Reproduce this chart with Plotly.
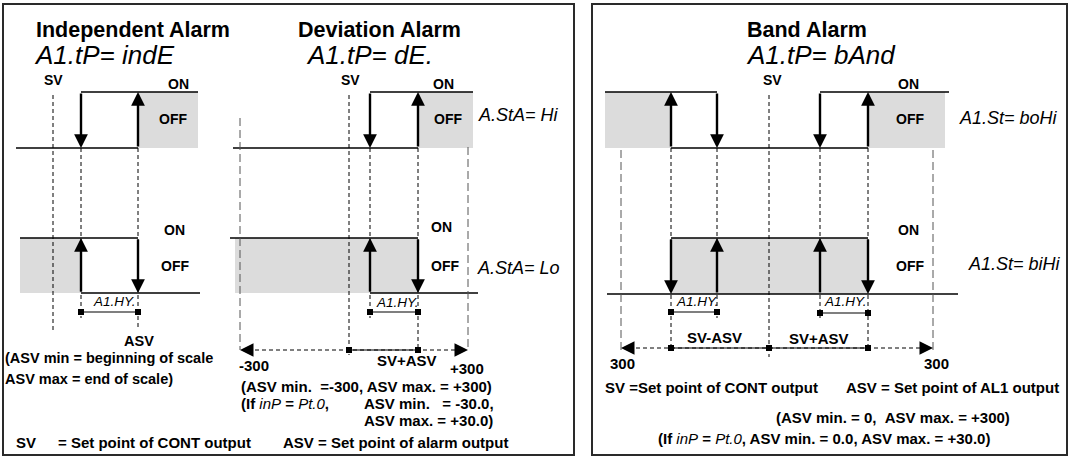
import plotly.graph_objects as go

# ---------------- data (diagram coordinates) ----------------
# row levels: [ON level, OFF level] for upper and lower relay traces
UPPER_ROW = [92, 148]
LOWER_ROW = [238, 293]

# Independent alarm key positions: SV, ASV-HY, ASV
IND_X = [53, 81, 138]
# Deviation alarm: -300, SV, SV+ASV-HY, SV+ASV, +300
DEV_X = [240, 349, 370, 418, 468]
# Band alarm: -300, SV-ASV, SV-ASV+HY, SV, SV+ASV-HY, SV+ASV, +300
BAND_X = [621, 671, 717, 769, 820, 868, 933]

TITLES = ["Independent Alarm", "Deviation Alarm", "Band Alarm"]
CODES = ["A1.tP= indE", "A1.tP= dE.", "A1.tP= bAnd"]
STATE_CODES = ["A.StA= Hi", "A.StA= Lo", "A1.St= boHi", "A1.St= biHi"]
SCALE_LABELS = ["-300", "SV+ASV", "+300", "300", "SV-ASV", "SV+ASV", "300"]

BOLD = "Liberation Sans, Arial, sans-serif"
SEG = "Liberation Sans, Arial, sans-serif"
GRAY = "#dcdcdc"

shapes = []
annotations = []
sq_x, sq_y = [], []


def line(x0, y0, x1, y1, width=1.5, color="black", dash="solid"):
    shapes.append(dict(type="line", xref="x", yref="y", x0=x0, y0=y0, x1=x1, y1=y1,
                       line=dict(color=color, width=width, dash=dash), layer="above"))


def rect(x0, y0, x1, y1):
    shapes.append(dict(type="rect", xref="x", yref="y", x0=x0, y0=y0, x1=x1, y1=y1,
                       fillcolor=GRAY, line=dict(width=0), layer="below"))


def arrow(x, y_from, y_to):
    annotations.append(dict(x=x, y=y_to, ax=x, ay=y_from, xref="x", yref="y",
                            axref="x", ayref="y", showarrow=True, text="",
                            arrowhead=2, arrowwidth=2.4, arrowsize=1.15,
                            arrowcolor="black", standoff=0))


def harrow(x_tip, x_tail, y):
    annotations.append(dict(x=x_tip, y=y, ax=x_tail, ay=y, xref="x", yref="y",
                            axref="x", ayref="y", showarrow=True, text="",
                            arrowhead=2, arrowwidth=1, arrowsize=2.7,
                            arrowcolor="black", standoff=0))


def dashed(x, y0, y1, long=False):
    if long:
        line(x, y0, x, y1, width=1, color="#555555", dash="8px,4px")
    else:
        line(x, y0, x, y1, width=1, color="black", dash="4px,3px")


def text(x, y, s, size=14, family=BOLD, bold=True, italic=False, anchor="left"):
    t = f"<b>{s}</b>" if bold else s
    if italic:
        t = f"<i>{t}</i>"
    annotations.append(dict(x=x, y=y, xref="x", yref="y", text=t, showarrow=False,
                            xanchor=anchor, yanchor="middle", borderpad=0,
                            font=dict(family=family, size=size, color="black")))


def seg(s):
    return f"<span style='font-weight:normal;font-style:italic'>{s}</span>"


on, off = UPPER_ROW
lon, loff = LOWER_ROW

# ---------------- panel frames ----------------
for x0, x1 in [(3, 574), (592, 1067)]:
    shapes.append(dict(type="rect", xref="x", yref="y", x0=x0, y0=4, x1=x1, y1=455,
                       line=dict(color="#2a2a2a", width=2), fillcolor="rgba(0,0,0,0)",
                       layer="above"))

# ---------------- Independent alarm ----------------
sv, lo, asv = IND_X
rect(asv, on, 198, off)
line(16, off, asv, off)
line(lo, on, 198, on)
arrow(lo, on, off)
arrow(asv, off, on)
rect(20, lon, lo, loff)
line(20, lon, asv, lon)
line(lo, loff, 200, loff)
arrow(lo, loff, lon)
arrow(asv, lon, loff)
dashed(sv, 95, 333)
dashed(lo, off, 318)
dashed(asv, off, 330)
line(lo, 312, asv, 312, width=1.2)
sq_x += [lo, asv]
sq_y += [312, 312]

# ---------------- Deviation alarm ----------------
dmin, dsv, dlo, dasv, dmax = DEV_X
rect(dasv, on, 473, off)
line(233, off, dasv, off)
line(dlo, on, 473, on)
arrow(dlo, on, off)
arrow(dasv, off, on)
rect(235, lon, dasv, loff)
line(230, lon, dasv, lon)
line(dlo, loff, 478, loff)
arrow(dlo, loff, lon)
arrow(dasv, lon, loff)
dashed(dmin, 118, 350, long=True)
dashed(dmax, 147, 350, long=True)
dashed(dsv, 95, 355)
dashed(dlo, off, 318)
dashed(dasv, off, 350)
line(dlo, 312, dasv, 312, width=1.2)
line(dmin + 8, 350, dmax - 8, 350, width=1, dash="4px,3px")
line(dsv, 350, dasv, 350, width=1.2)
harrow(dmin, dmin + 6, 350)
harrow(dmax, dmax - 6, 350)
sq_x += [dlo, dasv, dsv, dasv]
sq_y += [312, 312, 350, 350]

# ---------------- Band alarm ----------------
bmin, blo, blo2, bsv, bhi2, bhi, bmax = BAND_X
rect(605, on, blo, off)
rect(bhi, on, 945, off)
line(605, on, blo2, on)
line(bhi2, on, 949, on)
line(blo, off, bhi, off)
arrow(blo, off, on)
arrow(blo2, on, off)
arrow(bhi2, on, off)
arrow(bhi, off, on)
rect(blo, lon, bhi, loff + 1)
line(blo, lon, bhi, lon)
line(607, loff + 1, 958, loff + 1)
arrow(blo, lon, loff + 1)
arrow(blo2, loff + 1, lon)
arrow(bhi2, loff + 1, lon)
arrow(bhi, lon, loff + 1)
dashed(bmin, 150, 353, long=True)
dashed(bmax, 150, 353, long=True)
dashed(blo, off, 348)
dashed(blo2, off, 318)
dashed(bsv, 95, 357)
dashed(bhi2, off, 318)
dashed(bhi, off, 348)
line(blo, 312, blo2, 312, width=1.2)
line(bhi2, 313, bhi, 313, width=1.2)
line(bmin + 8, 348, bmax - 8, 348, width=1, dash="4px,3px")
line(blo, 348, bhi, 348, width=1.2)
harrow(bmin, bmin + 6, 348)
harrow(bmax, bmax - 6, 348)
sq_x += [blo, blo2, bhi2, bhi, blo, bsv, bhi]
sq_y += [312, 312, 313, 313, 348, 348, 348]

# ---------------- texts ----------------
text(35, 30, TITLES[0], size=21.5)
text(297, 30, TITLES[1], size=21.5)
text(746, 30, TITLES[2], size=21.5)
text(33, 55, CODES[0], size=26, family=SEG, bold=False, italic=True)
text(305, 55, CODES[1], size=26, family=SEG, bold=False, italic=True)
text(745, 55, CODES[2], size=26, family=SEG, bold=False, italic=True)

for x, y, s in [(43, 80, "SV"), (167, 84, "ON"), (158, 119, "OFF"), (163, 230, "ON"), (160, 266, "OFF"),
                (340, 80, "SV"), (432, 84, "ON"), (433, 119, "OFF"), (430, 227, "ON"), (430, 266, "OFF"),
                (762, 80, "SV"), (897, 84, "ON"), (895, 119, "OFF"), (897, 230, "ON"), (895, 266, "OFF")]:
    text(x, y, s, size=14)

text(477, 115, STATE_CODES[0], size=18, family=SEG, bold=False, italic=True)
text(476, 268, STATE_CODES[1], size=18, family=SEG, bold=False, italic=True)
text(958, 118, STATE_CODES[2], size=18, family=SEG, bold=False, italic=True)
text(967, 264, STATE_CODES[3], size=18, family=SEG, bold=False, italic=True)

for x, y in [(92, 301), (375, 302), (675, 301), (823, 301)]:
    text(x, y, "A1.HY.", size=13.5, family=SEG, bold=False, italic=True)

text(123, 341, "ASV", size=14.5)
text(4, 358, "(ASV min = beginning of scale", size=14.5)
text(4, 379, "ASV max = end of scale)", size=14.5)

text(238, 365, SCALE_LABELS[0], size=15)
text(376, 360, SCALE_LABELS[1], size=15)
text(449, 368, SCALE_LABELS[2], size=15)
text(240, 386, "(ASV min.&nbsp;&nbsp;=-300, ASV max. = +300)", size=15)
text(240, 403, "(If " + seg("inP") + " = " + seg("Pt.0") + ",", size=15)
text(363, 403, "ASV min.&nbsp;&nbsp;&nbsp;= -30.0,", size=15)
text(363, 420, "ASV max. = +30.0)", size=15)
text(15, 442, "SV", size=15)
text(57, 442, "= Set point of CONT output", size=15)
text(282, 442, "ASV = Set point of alarm output", size=15)

text(622, 363, SCALE_LABELS[3], size=15, anchor="center")
text(714, 337, SCALE_LABELS[4], size=15, anchor="center")
text(819, 338, SCALE_LABELS[5], size=15, anchor="center")
text(936, 363, SCALE_LABELS[6], size=15, anchor="center")
text(604, 387, "SV =Set point of CONT output", size=15)
text(845, 387, "ASV = Set point of AL1 output", size=15)
text(775, 417, "(ASV min. = 0,&nbsp;&nbsp;ASV max. = +300)", size=15)
text(657, 438, "(If " + seg("inP") + " = " + seg("Pt.0") + ", ASV min. = 0.0, ASV max. = +30.0)", size=15)

fig = go.Figure()
fig.add_trace(go.Scatter(x=sq_x, y=sq_y, mode="markers",
                         marker=dict(symbol="square", size=6, color="black"),
                         hoverinfo="skip", showlegend=False))
fig.update_layout(
    width=1070, height=460,
    margin=dict(l=0, r=0, t=0, b=0),
    paper_bgcolor="white", plot_bgcolor="white",
    xaxis=dict(range=[0, 1070], visible=False, fixedrange=True),
    yaxis=dict(range=[460, 0], visible=False, fixedrange=True),
    shapes=shapes, annotations=annotations, showlegend=False,
)
fig.write_html("out.html", config={"displayModeBar": False},
               post_script="document.body.style.margin='0';document.body.style.overflow='hidden';")
